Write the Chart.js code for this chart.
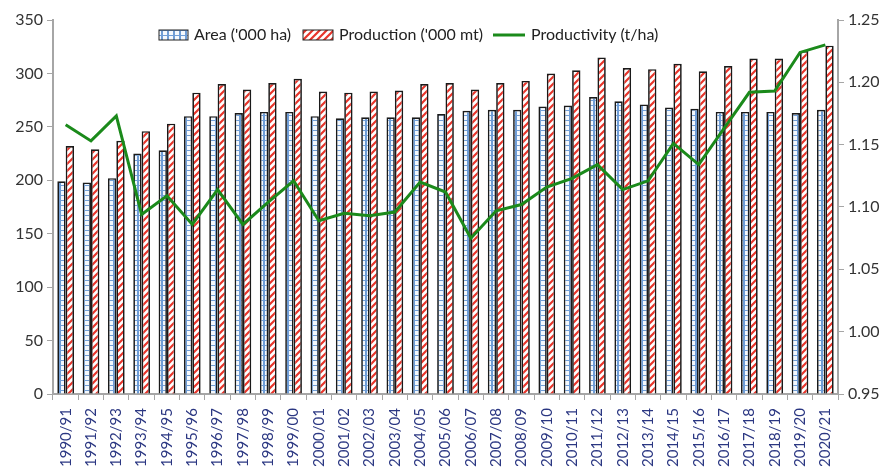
<!DOCTYPE html>
<html>
<head>
<meta charset="utf-8">
<script src="https://cdn.jsdelivr.net/npm/chart.js@4"></script>
<style>
  html, body { margin: 0; padding: 0; background: #fff; }
  #wrap { width: 887px; height: 468px; }
</style>
</head>
<body>
<div id="wrap"><canvas id="chart" width="887" height="468"></canvas></div>
<script>
const seasons = ["1990/91","1991/92","1992/93","1993/94","1994/95","1995/96","1996/97","1997/98",
  "1998/99","1999/00","2000/01","2001/02","2002/03","2003/04","2004/05","2005/06","2006/07",
  "2007/08","2008/09","2009/10","2010/11","2011/12","2012/13","2013/14","2014/15","2015/16",
  "2016/17","2017/18","2018/19","2019/20","2020/21"];

// '000 ha
const area = [199,198,202,225,228,260,260,263,264,264,260,258,259,259,259,262,265,266,266,269,
  270,278,274,271,268,267,264,264,264,263,266];

// '000 mt
const production = [232,229,237,246,253,282,290,285,291,295,283,282,283,284,290,291,285,291,293,
  300,303,315,305,304,309,302,307,314,314,321,326];

// t/ha
const productivity = [1.166,1.153,1.173,1.094,1.109,1.086,1.114,1.086,1.104,1.121,1.089,1.095,
  1.093,1.096,1.120,1.112,1.075,1.097,1.102,1.116,1.123,1.134,1.114,1.121,1.151,1.134,1.163,
  1.192,1.193,1.224,1.230];

const leftTicks = [0, 50, 100, 150, 200, 250, 300, 350];
const rightTicks = [0.95, 1.00, 1.05, 1.10, 1.15, 1.20, 1.25];

const fontFamily = "Lato, 'Open Sans', sans-serif";
const green = '#1b8a1b';

// small brick pattern for area bars
function brickPattern() {
    let c = document.createElement('canvas');
    c.width = 6; c.height = 5;
    let g = c.getContext('2d');
    g.fillStyle = '#f4f8fd';
    g.fillRect(0, 0, 6, 5);
    g.strokeStyle = '#6f9dd6';
    g.lineWidth = 1;
    g.beginPath();
    g.moveTo(0, 0.5); g.lineTo(6, 0.5);
    g.moveTo(0.5, 0); g.lineTo(0.5, 5);
    g.moveTo(5.5, 0); g.lineTo(5.5, 5);
    g.stroke();
    return g.createPattern(c, 'repeat');
}

// diagonal stripes for production bars
function stripePattern() {
    let c = document.createElement('canvas');
    c.width = 7; c.height = 7;
    let g = c.getContext('2d');
    g.fillStyle = '#ffffff';
    g.fillRect(0, 0, 7, 7);
    g.strokeStyle = '#e8352b';
    g.lineWidth = 2.2;
    g.beginPath();
    g.moveTo(-1, 8); g.lineTo(8, -1);
    g.moveTo(-1, 1); g.lineTo(1, -1);
    g.moveTo(6, 8); g.lineTo(8, 6);
    g.stroke();
    return g.createPattern(c, 'repeat');
}

const areaFill = brickPattern();
const prodFill = stripePattern();

// legend drawn over the top of the plot, like the original
const legendInPlot = {
    id: 'legendInPlot',
    afterDraw(chart) {
        const ctx = chart.ctx;
        const y = 35;
        ctx.save();
        ctx.font = "16px " + fontFamily;
        ctx.textBaseline = 'middle';

        ctx.fillStyle = areaFill;
        ctx.fillRect(159, y - 5, 29, 10);
        ctx.strokeStyle = '#222'; ctx.lineWidth = 1;
        ctx.strokeRect(159, y - 5, 29, 10);
        ctx.fillStyle = '#222';
        ctx.fillText("Area ('000 ha)", 194, y);

        ctx.fillStyle = prodFill;
        ctx.fillRect(303, y - 5, 30, 10);
        ctx.strokeRect(303, y - 5, 30, 10);
        ctx.fillStyle = '#222';
        ctx.fillText("Production ('000 mt)", 339, y);

        ctx.strokeStyle = green; ctx.lineWidth = 3;
        ctx.beginPath(); ctx.moveTo(493, y); ctx.lineTo(525, y); ctx.stroke();
        ctx.fillText("Productivity (t/ha)", 531, y);
        ctx.restore();
    }
};

new Chart(document.getElementById('chart'), {
    type: 'bar',
    data: {
        labels: seasons,
        datasets: [
            {
                type: 'line',
                label: 'Productivity (t/ha)',
                data: productivity,
                yAxisID: 'y1',
                borderColor: green,
                borderWidth: 3,
                pointRadius: 0,
                tension: 0,
                order: 0,
            },
            {
                label: "Area ('000 ha)",
                data: area,
                yAxisID: 'y',
                backgroundColor: areaFill,
                borderColor: '#1a1a1a',
                borderWidth: 1.7,
                order: 1,
            },
            {
                label: "Production ('000 mt)",
                data: production,
                yAxisID: 'y',
                backgroundColor: prodFill,
                borderColor: '#1a1a1a',
                borderWidth: 1.7,
                order: 1,
            },
        ],
    },
    options: {
        responsive: false,
        animation: false,
        datasets: {
            bar: { barPercentage: 1.0, categoryPercentage: 0.66 },
        },
        layout: { padding: { top: 20, left: 0, right: 0, bottom: 0 } },
        plugins: {
            legend: { display: false },
            tooltip: { enabled: false },
        },
        scales: {
            x: {
                grid: { drawOnChartArea: false, color: '#a6a6a6', tickLength: 6 },
                border: { color: '#a6a6a6', width: 2 },
                ticks: {
                    autoSkip: false,
                    minRotation: 90,
                    maxRotation: 90,
                    color: '#2b3782',
                    font: { family: fontFamily, size: 15 },
                    padding: 8,
                },
                afterFit(scale) { scale.height = 74; },
            },
            y: {
                position: 'left',
                min: 0,
                max: 350,
                afterBuildTicks(scale) { scale.ticks = leftTicks.map(v => ({ value: v })); },
                grid: { drawOnChartArea: false, color: '#a6a6a6', tickLength: 6 },
                border: { color: '#a6a6a6', width: 2 },
                ticks: {
                    color: '#333',
                    font: { family: fontFamily, size: 16 },
                    padding: 4,
                },
                afterFit(scale) { scale.width = 53; },
            },
            y1: {
                position: 'right',
                min: 0.95,
                max: 1.25,
                afterBuildTicks(scale) { scale.ticks = rightTicks.map(v => ({ value: v })); },
                grid: { drawOnChartArea: false, color: '#a6a6a6', tickLength: 6 },
                border: { color: '#a6a6a6', width: 2 },
                ticks: {
                    color: '#333',
                    font: { family: fontFamily, size: 16 },
                    padding: 4,
                    callback: v => v.toFixed(2),
                },
                afterFit(scale) { scale.width = 49; },
            },
        },
    },
    plugins: [legendInPlot],
});
</script>
</body>
</html>
